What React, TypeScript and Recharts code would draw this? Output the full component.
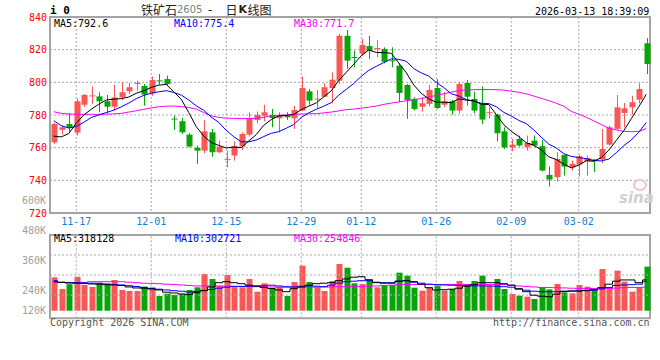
import React from 'react';
import { ComposedChart, Bar, Line, XAxis, YAxis, CartesianGrid, ReferenceArea, ReferenceLine } from 'recharts';

const DATES = [
  '11-12','11-13','11-14','11-17','11-18','11-19','11-20','11-21','11-24','11-25','11-26','11-27','11-28',
  '12-01','12-02','12-03','12-04','12-05','12-08','12-09','12-10','12-11','12-12','12-15','12-16','12-17','12-18','12-19',
  '12-22','12-23','12-24','12-25','12-26','12-29','12-30','12-31',
  '01-05','01-06','01-07','01-08','01-09','01-12','01-13','01-14','01-15','01-16','01-19','01-20','01-21','01-22','01-23',
  '01-26','01-27','01-28','01-29','01-30','02-02','02-03','02-04','02-05','02-06','02-09','02-10','02-11','02-12','02-13',
  '02-24','02-25','02-26','02-27','03-02','03-03','03-04','03-05','03-06','03-09','03-10','03-11','03-12','03-13',
];

const OPEN = [
  763.3, 770.9, 774.5, 769.2, 786.3, 791.6, 791.4, 788.4, 785.1, 790.8,
  794.5, 799.2, 797.8, 793.3, 801.2, 802.0, 777.8, 776.2, 768.0, 759.8,
  758.2, 769.4, 757.2, 752.5, 755.2, 760.7, 768.0, 777.0, 779.6, 780.0,
  778.0, 779.6, 778.0, 782.7, 794.5, 789.6, 791.2, 796.5, 801.0, 828.5,
  815.5, 817.7, 822.2, 820.6, 820.4, 813.5, 810.2, 798.4, 789.8, 785.1,
  786.8, 796.5, 786.3, 788.4, 782.7, 799.6, 789.8, 787.2, 781.3, 780.2,
  770.0, 760.2, 765.3, 760.2, 764.3, 760.9, 743.3, 741.9, 755.6, 748.0,
  749.7, 751.7, 752.7, 752.7, 761.9, 771.5, 781.2, 784.7, 789.4, 823.9,
];
const CLOSE = [
  774.5, 772.5, 772.1, 788.4, 792.3, 792.0, 788.4, 785.1, 790.8, 793.9,
  797.0, 799.6, 792.5, 801.4, 800.8, 799.0, 777.4, 769.4, 760.7, 758.2,
  770.0, 757.2, 760.7, 753.0, 760.9, 768.4, 777.6, 780.0, 781.7, 778.2,
  780.0, 778.6, 783.1, 796.5, 788.8, 790.0, 797.0, 801.6, 828.5, 813.3,
  815.1, 822.8, 819.4, 821.0, 812.6, 813.1, 793.5, 789.2, 783.7, 787.2,
  795.3, 784.3, 788.4, 782.7, 799.0, 791.2, 782.7, 777.2, 781.7, 768.8,
  760.2, 761.9, 761.3, 762.9, 761.3, 746.0, 740.5, 753.1, 748.4, 750.1,
  754.7, 753.7, 751.7, 759.2, 772.5, 784.7, 784.1, 787.8, 795.9, 811.2,
];
const HIGH = [
  775.0, 773.5, 781.2, 790.0, 792.8, 797.4, 793.9, 792.3, 798.4, 800.0,
  799.6, 801.0, 799.0, 803.5, 805.1, 804.1, 779.6, 778.2, 768.8, 761.3,
  777.0, 771.5, 764.3, 758.2, 763.9, 769.4, 781.7, 782.1, 786.3, 783.7,
  781.7, 781.7, 785.7, 803.5, 795.9, 795.3, 799.4, 806.1, 829.6, 832.0,
  819.4, 826.5, 828.5, 825.9, 821.4, 821.4, 811.6, 799.0, 790.8, 790.8,
  798.4, 802.0, 793.9, 789.2, 800.0, 801.4, 794.3, 797.4, 784.7, 780.6,
  772.5, 765.3, 767.4, 767.4, 767.4, 764.7, 748.6, 757.2, 755.6, 752.1,
  755.6, 755.2, 753.1, 771.5, 773.5, 792.3, 787.4, 791.8, 799.4, 827.1,
];
const LOW = [
  762.3, 768.0, 769.4, 767.4, 785.0, 786.8, 781.7, 781.0, 782.7, 789.2,
  792.9, 794.9, 785.7, 791.8, 798.6, 798.0, 770.9, 768.4, 760.2, 750.1,
  756.6, 754.5, 756.6, 748.0, 752.1, 758.6, 766.8, 774.9, 776.2, 772.5,
  769.4, 777.0, 771.5, 782.3, 786.3, 784.3, 790.8, 787.2, 799.0, 808.2,
  809.2, 816.3, 814.3, 815.3, 811.6, 809.2, 787.8, 777.6, 782.7, 782.1,
  785.3, 783.7, 784.7, 780.2, 781.0, 785.7, 781.0, 774.5, 778.0, 763.9,
  759.2, 757.8, 760.7, 758.2, 760.7, 745.4, 736.2, 739.2, 742.9, 746.0,
  742.3, 742.9, 745.0, 750.5, 761.3, 770.9, 772.5, 780.2, 787.2, 805.1,
];

const MA5 = [
  767.0, 766.6, 768.6, 775.0, 780.0, 783.5, 786.6, 789.2, 789.7, 790.0,
  791.0, 793.3, 794.8, 796.9, 798.3, 798.7, 794.2, 789.6, 781.5, 772.9,
  767.1, 763.1, 761.4, 759.8, 760.4, 760.0, 764.1, 768.0, 773.7, 777.2,
  779.5, 779.7, 780.3, 783.3, 785.4, 787.4, 791.1, 794.8, 801.2, 806.1,
  811.1, 816.3, 819.8, 818.3, 818.2, 817.8, 811.9, 805.9, 798.4, 793.3,
  789.8, 787.9, 787.8, 787.6, 789.9, 789.1, 788.8, 786.6, 786.4, 780.3,
  774.1, 770.0, 766.8, 763.0, 761.5, 758.7, 754.4, 752.8, 749.9, 747.6,
  749.4, 752.0, 751.7, 753.9, 758.4, 764.4, 770.4, 777.7, 785.0, 792.6,
];
const MA10 = [
  776.5, 773.5, 772.0, 773.0, 775.5, 778.5, 780.0, 781.5, 783.0, 785.0,
  787.3, 790.0, 792.0, 793.3, 794.2, 794.9, 793.8, 792.2, 789.2, 785.6,
  782.9, 778.7, 775.5, 770.6, 766.7, 763.6, 763.6, 764.7, 766.8, 768.8,
  769.8, 771.9, 774.2, 778.5, 781.3, 783.5, 785.4, 787.6, 792.2, 795.7,
  799.3, 803.7, 807.3, 809.8, 812.1, 814.4, 814.1, 812.9, 808.4, 805.8,
  803.8, 799.9, 796.8, 793.0, 791.6, 789.5, 788.4, 787.2, 787.0, 785.1,
  781.6, 779.4, 776.7, 774.7, 770.9, 766.4, 762.2, 759.8, 756.4, 754.6,
  754.0, 753.2, 752.2, 751.9, 753.0, 756.9, 761.2, 764.7, 769.4, 775.4,
];
const MA30 = [
  782.0, 781.0, 780.6, 780.4, 780.4, 780.4, 780.4, 780.5, 780.7, 781.0,
  781.8, 782.6, 783.5, 784.3, 785.1, 785.4, 785.5, 785.2, 784.6, 783.6,
  781.5, 779.5, 778.5, 778.1, 777.9, 777.8, 777.8, 778.0, 778.6, 779.5,
  779.8, 780.1, 780.4, 780.6, 780.7, 780.8, 781.3, 781.8, 782.5, 783.3,
  783.6, 784.2, 784.8, 785.5, 786.5, 787.3, 788.0, 788.7, 789.4, 790.1,
  791.0, 792.0, 793.0, 794.0, 795.0, 795.3, 795.5, 795.6, 795.6, 795.5,
  795.2, 794.6, 793.9, 793.0, 791.6, 790.2, 788.8, 787.2, 785.4, 782.2,
  780.5, 778.6, 776.4, 774.2, 771.9, 770.8, 770.0, 769.8, 769.9, 771.7,
];

// volume in thousands (K)
const VOLUME = [
  293.5, 246.8, 266.0, 295.5, 262.8, 254.8, 269.5, 264.0, 282.8, 242.8,
  238.8, 238.8, 256.2, 253.5, 218.8, 228.2, 222.8, 226.8, 242.8, 253.5,
  306.8, 286.8, 258.8, 302.8, 253.5, 253.5, 286.8, 236.2, 269.5, 249.5,
  256.0, 218.8, 274.8, 340.2, 274.8, 253.5, 238.8, 278.8, 346.8, 332.0,
  269.5, 266.8, 282.8, 253.5, 262.8, 262.8, 312.2, 300.2, 252.2, 240.2,
  252.2, 260.2, 240.2, 246.8, 278.8, 266.8, 278.8, 300.2, 260.2, 286.8,
  246.8, 226.8, 220.2, 216.2, 206.8, 253.5, 245.5, 266.8, 233.5, 229.5,
  262.8, 256.2, 245.5, 326.8, 253.5, 320.2, 276.2, 236.2, 253.5, 336.2,
];
const VOL_MA5 = [
  276, 273, 271, 270, 269, 267, 266, 264, 263, 261,
  255, 251, 250, 247, 243, 234, 231, 227, 224, 232,
  241, 255, 272, 276, 272, 268, 262, 258, 253, 249,
  243, 236, 248, 255, 262, 268, 270, 272, 280, 287,
  294, 296, 284, 272, 270, 270, 278, 280, 276, 266,
  252, 243, 244, 246, 250, 258, 264, 272, 272, 272,
  268, 262, 248, 236, 222, 218, 216, 226, 238, 239,
  239, 241, 245, 252, 266, 278, 283, 283, 272, 283,
];
const VOL_MA10 = [
  280, 274, 272, 272, 271, 270, 270, 267, 265, 263,
  260, 257, 253, 249, 246, 243, 240, 238, 235, 237,
  240, 245, 250, 254, 256, 257, 258, 259, 260, 262,
  259, 256, 255, 258, 259, 258, 256, 262, 270, 276,
  278, 280, 280, 274, 272, 272, 278, 280, 274, 270,
  266, 264, 263, 262, 261, 260, 259, 259, 259, 258,
  256, 254, 246, 242, 238, 236, 236, 236, 237, 238,
  239, 240, 242, 247, 253, 261, 263, 264, 266, 276,
];
const VOL_MA30 = [
  274, 273, 273, 272, 273, 276, 276, 276, 276, 276,
  274, 272, 270, 269, 268, 266, 265, 263, 261, 259,
  259, 259, 259, 258, 258, 257, 257, 256, 256, 255,
  254, 254, 254, 253, 254, 254, 255, 255, 256, 256,
  256, 257, 258, 259, 261, 262, 264, 265, 265, 265,
  265, 265, 265, 265, 265, 265, 265, 265, 265, 265,
  265, 262, 259, 257, 255, 253, 253, 252, 251, 250,
  249, 249, 249, 249, 249, 250, 252, 253, 253, 254,
];

const X_TICKS = ['11-17', '12-01', '12-15', '12-29', '01-12', '01-26', '02-09', '03-02'];
const PRICE_TICKS = [720, 740, 760, 780, 800, 820, 840];
const VOL_TICKS = [120, 240, 360, 480, 600];
const VOL_FLOOR = 160;
const VOL_PANEL = [129.6, 462.8];
const VOL_GRID = [222.8, 302.8, 382.8];

const RED = '#f95656';
const GREEN = '#08a508';
const MONO = '"DejaVu Sans Mono", monospace';
const CJK = '"Noto Sans CJK SC", sans-serif';
const BORDER = '#a4a4a4';
const GRID = '#a8a8a8';

const rows = DATES.map((date, i) => ({
  date,
  open: OPEN[i],
  close: CLOSE[i],
  high: HIGH[i],
  low: LOW[i],
  range: [LOW[i], HIGH[i]],
  ma5: MA5[i],
  ma10: MA10[i],
  ma30: MA30[i],
  volRange: [VOL_FLOOR, VOLUME[i]],
  vma5: VOL_MA5[i],
  vma10: VOL_MA10[i],
  vma30: VOL_MA30[i],
}));

const Candle = (props: any) => {
  const { x, y, width, height, payload } = props;
  if (!payload) return null;
  const { open, close, high, low } = payload;
  const color = close >= open ? RED : GREEN;
  const top = Math.min(y, y + height);
  const h = Math.abs(height);
  const k = high > low ? h / (high - low) : 0;
  const yOf = (v: number) => top + (high - v) * k;
  const cx = Math.round(x + width / 2);
  const bw = Math.round(width);
  const bTop = yOf(Math.max(open, close));
  const bH = Math.max(1, Math.abs(open - close) * k);
  return (
    <g>
      <line x1={cx + 0.5} x2={cx + 0.5} y1={top} y2={top + h} stroke={color} strokeWidth={1} />
      <rect x={cx + 0.5 - bw / 2} y={bTop} width={bw} height={bH} fill={color} />
    </g>
  );
};

const VolBar = (props: any) => {
  const { x, y, width, height, payload } = props;
  if (!payload) return null;
  const color = payload.close >= payload.open ? RED : GREEN;
  const top = Math.min(y, y + height);
  const h = Math.abs(height);
  const cx = Math.round(x + width / 2);
  const bw = Math.round(width);
  return <rect x={cx + 0.5 - bw / 2} y={top} width={bw} height={h} fill={color} />;
};

const VolTick = (props: any) => {
  const { x, y, payload } = props;
  const lift = payload.value === VOL_TICKS[0] ? -10.5 : 0;
  return (
    <text x={x} y={y + lift} dy="0.355em" textAnchor="end" fill="#a0a0a0" fontSize={10} fontFamily={MONO}>
      {`${payload.value}K`}
    </text>
  );
};

const Txt = ({ x, y, color = '#000', size = 10, font = MONO, weight = 400, children, style }: any) => (
  <div
    style={{
      position: 'absolute', left: x, top: y, color, fontSize: size, fontFamily: font, fontWeight: weight,
      lineHeight: '12px', whiteSpace: 'pre', ...style,
    }}
  >
    {children}
  </div>
);

export default function App() {
  return (
    <div style={{ position: 'absolute', left: 0, top: 0, width: 660, height: 360, background: '#fff', overflow: 'hidden' }}>
      <div style={{ position: 'absolute', left: 0, top: 0 }}>
        <ComposedChart width={660} height={235} data={rows} margin={{ top: 17, right: 10, bottom: 0, left: 0 }}>
          <CartesianGrid stroke={GRID} strokeDasharray="2 2" />
          <XAxis
            dataKey="date" type="category" ticks={X_TICKS} interval={0} tickLine={false} axisLine={false}
            height={22} tickSize={4} tickMargin={1}
            tick={{ fill: '#0f7fd6', fontSize: 10, fontFamily: MONO }}
          />
          <YAxis
            domain={[720, 840]} ticks={PRICE_TICKS} interval={0} width={50} tickLine={false} axisLine={false}
            tickSize={0} tickMargin={3} allowDataOverflow
            tick={{ fill: '#ff0000', fontSize: 10, fontFamily: MONO }}
          />
          <ReferenceArea y1={720} y2={840} fill="none" stroke={BORDER} strokeWidth={2} ifOverflow="visible" />
          <Line dataKey="ma30" type="linear" stroke="#ff00ff" strokeWidth={1} dot={false} activeDot={false} isAnimationActive={false} />
          <Line dataKey="ma10" type="linear" stroke="#0000ff" strokeWidth={1} dot={false} activeDot={false} isAnimationActive={false} />
          <Line dataKey="ma5" type="linear" stroke="#000000" strokeWidth={1} dot={false} activeDot={false} isAnimationActive={false} />
          <Bar dataKey="range" barSize={6} shape={<Candle />} isAnimationActive={false} />
        </ComposedChart>
      </div>

      <div style={{ position: 'absolute', left: 0, top: 190 }}>
        <ComposedChart width={660} height={136} data={rows} margin={{ top: 10.7, right: 10, bottom: 5.3, left: 0 }}>
          <XAxis dataKey="date" type="category" hide />
          <YAxis
            domain={[120, 600]} ticks={VOL_TICKS} interval={0} width={50} tickLine={false} axisLine={false}
            tickSize={0} tickMargin={4} allowDataOverflow tick={<VolTick />}
          />
          {VOL_GRID.map((v) => (
            <ReferenceLine key={`h${v}`} y={v} stroke={GRID} strokeDasharray="2 2" />
          ))}
          {X_TICKS.map((d) => (
            <ReferenceLine
              key={`v${d}`}
              segment={[{ x: d, y: VOL_PANEL[0] }, { x: d, y: VOL_PANEL[1] }]}
              stroke={GRID}
              strokeDasharray="2 2"
            />
          ))}
          <ReferenceArea y1={VOL_PANEL[0]} y2={VOL_PANEL[1]} fill="none" stroke={BORDER} strokeWidth={2} />
          <Bar dataKey="volRange" barSize={6} shape={<VolBar />} isAnimationActive={false} />
          <Line dataKey="vma30" type="step" stroke="#ff00ff" strokeWidth={1} dot={false} activeDot={false} isAnimationActive={false} />
          <Line dataKey="vma10" type="step" stroke="#0000ff" strokeWidth={1} dot={false} activeDot={false} isAnimationActive={false} />
          <Line dataKey="vma5" type="step" stroke="#000000" strokeWidth={1} dot={false} activeDot={false} isAnimationActive={false} />
        </ComposedChart>
      </div>

      <Txt x={50} y={5} size={11} weight={700}>i 0</Txt>
      <Txt x={141} y={3} size={12} font={CJK} color="#222" style={{ lineHeight: '14px' }}>铁矿石</Txt>
      <Txt x={177} y={4} size={10} font={'"DejaVu Sans", sans-serif'} color="#808080">2605</Txt>
      <Txt x={208} y={3} size={12} font={'"DejaVu Sans", sans-serif'} color="#222" style={{ lineHeight: '14px' }}>-</Txt>
      <Txt x={225.5} y={3} size={12} font={CJK} color="#222" style={{ lineHeight: '14px' }}>日</Txt>
      <Txt x={238.5} y={3} size={11} font={'"DejaVu Sans", sans-serif'} weight={700} color="#222" style={{ lineHeight: '14px' }}>K</Txt>
      <Txt x={247.5} y={3} size={12} font={CJK} color="#222" style={{ lineHeight: '14px' }}>线图</Txt>
      <Txt x={535} y={6} size={10}>2026-03-13 18:39:09</Txt>

      <Txt x={54} y={18}>MA5:792.6</Txt>
      <Txt x={174} y={18} color="#0000ff">MA10:775.4</Txt>
      <Txt x={294} y={18} color="#ff00ff">MA30:771.7</Txt>

      <Txt x={54} y={232.5}>MA5:318128</Txt>
      <Txt x={175} y={232.5} color="#0000ff">MA10:302721</Txt>
      <Txt x={294} y={232.5} color="#ff00ff">MA30:254846</Txt>

      <div style={{ position: 'absolute', left: 633, top: 179, width: 10, height: 8, borderRadius: '50%', border: '2px solid #f2c4c4' }} />
      <Txt x={619} y={190} size={15} font={'"DejaVu Sans", sans-serif'} weight={700} color="#cfcfcf" style={{ fontStyle: 'italic', lineHeight: '17px' }}>sina</Txt>

      <Txt x={50} y={316.5} color="#555">Copyright 2026 SINA.COM</Txt>
      <Txt x={493} y={316.5} color="#555">http://finance.sina.com.cn</Txt>
    </div>
  );
}
